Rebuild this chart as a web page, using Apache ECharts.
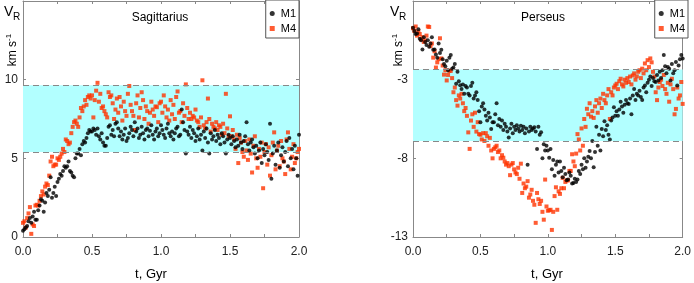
<!DOCTYPE html>
<html>
<head>
<meta charset="utf-8">
<script src="https://cdn.jsdelivr.net/npm/echarts@6/dist/echarts.min.js"></script>
<style>
html,body{margin:0;padding:0;background:#fff;}
#c{width:694px;height:283px;}
</style>
</head>
<body>
<div id="c"></div>
<script>
// time grid (Gyr), one sample every 0.01 Gyr
const t = Array.from({length: 201}, (_, i) => i / 100);

// Sagittarius, V_R (km/s)
const sagM1 = [
0.4,0.5,0.6,0.7,1.0,1.2,0.9,1.3,1.6,1.1,
1.1,1.7,2.0,2.4,2.3,1.6,2.2,2.8,2.6,3.0,
3.8,2.5,2.8,3.2,2.6,3.5,3.7,4.0,3.9,4.2,
4.5,4.4,4.5,4.8,4.2,4.1,3.9,3.8,5.0,5.3,
5.3,5.6,5.2,5.9,6.1,6.0,6.3,6.6,6.8,6.7,
6.7,6.9,6.8,6.5,6.9,6.4,6.2,6.6,6.0,5.8,
5.8,6.3,7.0,7.1,6.5,6.8,6.4,7.2,7.3,6.9,
6.4,6.7,6.2,6.5,6.9,6.1,6.3,6.6,7.0,6.8,
6.4,7.3,6.7,6.9,6.3,6.5,7.0,6.6,6.2,6.8,
6.9,6.4,6.75,7.1,6.5,6.2,6.7,6.9,6.4,6.6,
7.1,6.8,6.5,6.3,6.9,7.2,6.6,6.4,6.7,6.2,
6.6,6.9,7.0,6.4,6.5,8.1,7.3,6.8,5.3,6.7,
6.5,7.0,6.3,6.8,6.6,6.1,6.4,6.9,6.2,6.5,
5.5,6.7,6.3,6.9,6.0,5.3,6.6,6.2,6.4,6.8,
6.1,6.5,6.3,5.9,6.6,6.4,6.0,5.3,6.2,6.5,
6.3,5.9,6.4,6.1,5.7,6.2,5.8,6.5,6.0,5.6,
6.1,6.4,7.3,5.9,5.5,6.0,6.2,5.7,5.3,5.8,
5.0,5.5,6.0,4.7,5.6,5.2,5.9,5.4,4.9,7.2,
3.7,5.3,5.8,4.6,5.5,6.0,4.4,5.2,5.7,4.8,
5.4,6.1,4.5,6.3,5.0,5.6,4.3,5.8,5.0,3.9,
6.5
];
const sagM4 = [
0.9,1.0,0.6,1.2,1.5,1.9,0.2,0.8,0.7,2.0,
2.05,2.0,2.3,2.6,2.9,2.7,3.2,3.4,3.3,3.9,
4.8,5.1,4.5,4.6,4.6,5.0,4.9,5.1,5.3,5.6,
5.4,6.2,6.1,5.9,6.0,6.6,7.0,7.3,7.4,7.2,
7.0,7.6,8.2,8.0,8.3,8.7,8.4,8.9,9.0,8.8,
9.0,7.6,8.7,9.3,9.8,8.6,9.1,8.2,8.3,8.0,
7.8,7.6,9.2,8.9,9.0,8.5,7.5,8.1,8.8,7.9,
8.9,8.3,7.4,8.6,8.0,7.7,9.1,9.6,8.4,8.0,
7.7,6.8,8.5,9.0,7.6,8.2,9.2,8.7,7.5,8.3,
8.0,7.2,7.9,8.6,8.1,7.7,8.3,8.25,7.3,8.5,
8.6,7.9,9.0,8.3,7.6,8.1,7.4,8.7,7.8,8.4,
7.5,8.9,9.25,7.9,8.0,7.3,8.5,7.7,9.7,8.2,
7.5,7.9,7.5,7.7,7.6,8.1,7.4,7.3,7.0,7.6,
9.96,7.1,6.9,7.3,8.8,7.5,6.7,7.2,7.0,6.9,
7.3,6.8,7.1,7.0,6.5,7.2,6.6,9.1,6.9,6.4,
7.67,6.4,6.8,6.2,5.6,6.5,4.7,6.3,6.0,5.4,
5.1,6.1,5.5,4.9,6.2,5.3,4.1,5.8,6.4,5.0,
4.4,5.6,5.1,6.0,3.1,5.4,5.9,4.6,5.7,3.9,
5.2,6.0,6.65,4.3,5.5,5.8,4.5,6.1,5.0,4.8,
4.0,6.2,6.65,5.6,4.3,5.1,5.9,4.7,5.0,5.4,
5.6
];

// Perseus, V_R (km/s)
const perM1 = [
0.3,0.1,-0.1,-0.06,0.2,-0.4,-0.5,-1.08,-0.3,-0.6,
-0.8,-0.5,-0.9,-0.7,-0.3,-1.1,-1.08,-1.4,-1.6,-0.7,
-1.3,-1.1,-1.7,-2.0,-2.15,-1.8,-2.4,-1.6,-1.44,-2.3,
-2.23,-2.0,-3.26,-2.5,-3.1,-3.36,-3.6,-3.3,-3.9,-3.4,
-3.5,-3.9,-4.0,-3.4,-3.2,-4.2,-4.0,-3.8,-4.3,-5.0,
-5.7,-4.7,-4.5,-4.9,-5.3,-5.6,-5.1,-5.4,-6.14,-5.7,
-5.7,-5.2,-4.5,-5.9,-5.5,-6.0,-5.6,-6.2,-5.8,-5.99,
-6.3,-6.67,-6.1,-5.8,-6.4,-6.0,-6.2,-5.9,-6.1,-6.3,
-5.93,-6.2,-6.0,-6.4,-6.1,-8.4,-6.3,-6.0,-6.2,-6.1,
-6.03,-6.3,-7.4,-6.0,-6.5,-6.35,-8.0,-7.1,-7.5,-7.2,
-7.5,-7.96,-7.4,-8.7,-8.1,-9.1,-8.4,-8.2,-8.9,-8.2,
-8.8,-9.2,-8.6,-9.0,-9.4,-9.35,-8.9,-9.1,-9.6,-9.56,
-9.3,-9.5,-9.35,-8.8,-9.0,-8.4,-8.7,-8.0,-8.6,-8.2,
-7.9,-7.53,-8.0,-6.9,-8.56,-7.6,-6.0,-7.2,-6.5,-7.5,
-6.14,-6.6,-5.65,-6.2,-5.9,-6.5,-6.8,-5.6,-5.4,-4.75,
-5.3,-5.0,-5.3,-4.9,-4.4,-4.7,-5.1,-4.6,-4.3,-4.5,
-4.54,-4.2,-5.2,-4.0,-3.6,-4.3,-3.9,-4.0,-3.7,-4.1,
-4.3,-3.5,-3.37,-3.8,-3.2,-3.0,-2.8,-3.4,-2.9,-3.1,
-3.15,-2.7,-3.05,-2.5,-2.9,-2.4,-1.44,-2.15,-2.6,-2.2,
-2.3,-3.05,-2.0,-2.6,-2.4,-1.87,-3.37,-2.1,-1.7,-1.44,
-1.65
];
const perM4 = [
0.27,0.1,0.38,-0.2,0.06,-0.1,-0.44,-0.3,-0.6,-0.5,
-0.2,0.38,0.35,-0.87,-0.7,-1.6,-1.2,-2.23,-1.9,-1.7,
-0.37,-1.65,-2.1,-2.68,-2.4,-3.05,-2.7,-2.44,-2.44,-2.9,
-3.8,-3.5,-4.3,-4.65,-4.0,-4.2,-3.9,-4.5,-5.0,-4.8,
-5.3,-6.35,-7.4,-5.6,-5.2,-6.0,-5.1,-6.3,-5.7,-6.46,
-6.5,-6.8,-6.4,-6.9,-6.4,-6.6,-7.2,-6.7,-7.5,-8.0,
-7.4,-7.3,-7.2,-7.6,-7.5,-8.0,-7.8,-7.96,-8.2,-8.4,
-8.3,-8.5,-9.07,-8.4,-8.3,-8.7,-8.9,-9.0,-8.6,-9.3,
-8.34,-10.2,-9.6,-9.9,-9.8,-9.45,-10.5,-10.3,-10.0,-10.7,
-10.95,-12.1,-10.2,-10.6,-10.9,-10.7,-11.4,-11.9,-9.35,-11.06,
-11.33,-11.3,-11.27,-12.55,-11.4,-10.4,-9.84,-11.27,-10.1,-10.26,
-9.9,-9.24,-9.9,-9.5,-9.4,-9.4,-8.8,-8.8,-7.74,-8.2,
-8.5,-7.7,-6.46,-6.8,-7.5,-6.1,-7.2,-5.5,-6.0,-4.85,
-5.2,-4.5,-5.35,-5.0,-5.43,-4.7,-4.3,-5.1,-4.5,-4.2,
-4.8,-3.9,-4.3,-4.5,-4.0,-3.6,-5.5,-3.8,-4.0,-3.5,
-3.37,-3.26,-3.6,-3.1,-2.94,-3.3,-3.43,-3.0,-3.2,-2.9,
-3.15,-2.8,-3.3,-2.73,-2.6,-3.0,-2.79,-2.5,-2.4,-2.9,
-2.3,-2.6,-1.97,-2.4,-1.76,-2.2,-1.65,-1.9,-2.5,-2.8,
-3.8,-4.3,-3.5,-3.15,-3.0,-3.4,-2.7,-3.6,-3.9,-3.2,
-4.4,-3.3,-2.94,-3.6,-5.2,-4.86,-3.5,-4.2,-4.0,-3.15,
-4.54
];

// panel settings
const panelTitles = ['Sagittarius', 'Perseus'];
const sagYLabels = [0, 5, 10];
const perYLabels = [-13, -8, -3];
const sagBand = [5.4, 9.65];
const perBand = [-6.9, -2.35];

const pair = (ys) => ys.map((y, i) => [t[i], y]);

const FONT = 'Liberation Sans, Arial, sans-serif';
const frame = '#888';
const cyan = '#b2ffff';
const red = '#ff3300';

function xAxes(gi) {
  return [
    { type: 'value', gridIndex: gi, min: 0, max: 2, interval: 0.25, position: 'bottom',
      axisLine: { onZero: false, lineStyle: { color: frame } },
      axisTick: { inside: true, length: 3, lineStyle: { color: frame } },
      axisLabel: { color: '#222', fontSize: 12, fontFamily: FONT, margin: 9,
        formatter: v => (Math.abs(v * 2 - Math.round(v * 2)) < 1e-6) ? v.toFixed(1) : '' },
      splitLine: { show: false } },
    { type: 'value', gridIndex: gi, min: 0, max: 2, interval: 0.25, position: 'top',
      axisLine: { onZero: false, lineStyle: { color: frame } },
      axisTick: { inside: true, length: 3, lineStyle: { color: frame } },
      axisLabel: { show: false }, splitLine: { show: false } }
  ];
}
function yAxes(gi, min, max, labels) {
  const ticks = labels.concat([max]);
  return [
    { type: 'value', gridIndex: gi, min: min, max: max, interval: 5, position: 'left',
      axisLine: { show: true, onZero: false, lineStyle: { color: frame } },
      axisTick: { show: true, inside: true, length: 3, lineStyle: { color: frame }, customValues: ticks },
      axisLabel: { color: '#222', fontSize: 12, fontFamily: FONT, margin: 5, customValues: labels },
      splitLine: { show: false } },
    { type: 'value', gridIndex: gi, min: min, max: max, interval: 5, position: 'right',
      axisLine: { show: true, onZero: false, lineStyle: { color: frame } },
      axisTick: { show: true, inside: true, length: 3, lineStyle: { color: frame }, customValues: ticks },
      axisLabel: { show: false }, splitLine: { show: false } }
  ];
}
function bandSeries(xi, yi, band) {
  return {
    type: 'scatter', xAxisIndex: xi, yAxisIndex: yi, data: [], z: 1, silent: true,
    markArea: { silent: true, itemStyle: { color: cyan }, data: [[{ yAxis: band[0] }, { yAxis: band[1] }]] },
    markLine: { silent: true, symbol: 'none', label: { show: false },
      lineStyle: { color: '#888', type: [6, 4], width: 1 },
      data: [{ yAxis: band[0] }, { yAxis: band[1] }] }
  };
}
function pts(name, xi, yi, ys) {
  const isM1 = name === 'M1';
  return {
    name: name, type: 'scatter', xAxisIndex: xi, yAxisIndex: yi, z: isM1 ? 3 : 2,
    symbol: isM1 ? 'circle' : 'rect', symbolSize: 4,
    itemStyle: { color: isM1 ? '#000' : red },
    data: pair(ys), animation: false
  };
}
function legend(right) {
  return {
    orient: 'vertical', top: 0, right: right, itemWidth: 5, itemHeight: 5, itemGap: 4,
    padding: [8, 3, 4, 4], borderColor: '#555', borderWidth: 1, backgroundColor: '#fff',
    textStyle: { fontSize: 11, fontFamily: FONT, color: '#000', padding: [0, 0, 0, 1] },
    data: [{ name: 'M1', icon: 'circle' }, { name: 'M4', icon: 'rect' }]
  };
}

const chart = echarts.init(document.getElementById('c'), null, { renderer: 'canvas' });
chart.setOption({
  animation: false,
  backgroundColor: '#fff',
  grid: [
    { left: 23, top: 1, width: 276, height: 236 },
    { left: 413, top: 1, width: 275, height: 236 }
  ],
  xAxis: xAxes(0).concat(xAxes(1)),
  yAxis: yAxes(0, 0, 15, sagYLabels).concat(yAxes(1, -13, 2, perYLabels)),
  legend: [legend(395), legend(6)],
  series: [
    bandSeries(0, 0, sagBand),
    pts('M4', 0, 0, sagM4),
    pts('M1', 0, 0, sagM1),
    bandSeries(2, 2, perBand),
    pts('M4', 2, 2, perM4),
    pts('M1', 2, 2, perM1)
  ],
  graphic: [
    { type: 'text', x: 160, y: 18, style: { text: panelTitles[0], font: '12px ' + FONT, fill: '#000', align: 'center', verticalAlign: 'middle' } },
    { type: 'text', x: 543, y: 18, style: { text: panelTitles[1], font: '12px ' + FONT, fill: '#000', align: 'center', verticalAlign: 'middle' } },
    { type: 'text', x: 151, y: 274, style: { text: 't, Gyr', font: '13px ' + FONT, fill: '#000', align: 'center', verticalAlign: 'middle' } },
    { type: 'text', x: 547, y: 274, style: { text: 't, Gyr', font: '13px ' + FONT, fill: '#000', align: 'center', verticalAlign: 'middle' } },
    // V_R labels
    { type: 'text', x: 4, y: 5, style: { text: 'V', font: '14px ' + FONT, fill: '#000' } },
    { type: 'text', x: 13, y: 12, style: { text: 'R', font: '10px ' + FONT, fill: '#000' } },
    { type: 'text', x: 390, y: 5, style: { text: 'V', font: '14px ' + FONT, fill: '#000' } },
    { type: 'text', x: 399, y: 12, style: { text: 'R', font: '10px ' + FONT, fill: '#000' } },
    // km s^-1 rotated
    { type: 'text', x: 12, y: 50, rotation: Math.PI / 2,
      style: { text: '{a|km s}{b|-1}', align: 'center', verticalAlign: 'middle',
        rich: { a: { font: '12px ' + FONT, fill: '#000', lineHeight: 14, verticalAlign: 'bottom' },
                b: { font: '8px ' + FONT, fill: '#000', verticalAlign: 'top', lineHeight: 14 } } } },
    { type: 'text', x: 398, y: 50, rotation: Math.PI / 2,
      style: { text: '{a|km s}{b|-1}', align: 'center', verticalAlign: 'middle',
        rich: { a: { font: '12px ' + FONT, fill: '#000', lineHeight: 14, verticalAlign: 'bottom' },
                b: { font: '8px ' + FONT, fill: '#000', verticalAlign: 'top', lineHeight: 14 } } } }
  ]
});
</script>
</body>
</html>
